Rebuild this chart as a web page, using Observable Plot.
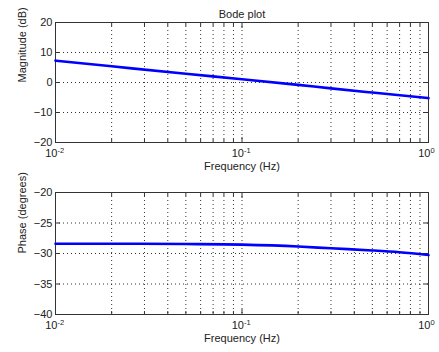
<!DOCTYPE html>
<html>
<head>
<meta charset="utf-8">
<script src="https://cdn.jsdelivr.net/npm/d3@7"></script>
<script src="https://cdn.jsdelivr.net/npm/@observablehq/plot@0.6"></script>
<style>
  html, body { margin: 0; padding: 0; background: #fff; }
  #chart svg { display: block; }
</style>
</head>
<body>
<div id="chart"></div>
<script>
// ---- data ----
const title = "Bode plot";
const xLabel = "Frequency (Hz)";
const magLabel = "Magnitude (dB)";
const phaseLabel = "Phase (degrees)";

const magFreq = [0.01, 0.02, 0.05, 0.1, 0.2, 0.3, 0.5, 1];
const magDb   = [7.3, 5.4, 2.9, 1.1, -0.8, -1.95, -3.35, -5.2];

const phaseFreq = [0.01, 0.02, 0.05, 0.1, 0.2, 0.3, 0.5, 0.7, 1];
const phaseDeg  = [-28.4, -28.4, -28.45, -28.55, -28.85, -29.15, -29.5, -29.8, -30.25];

const decadeTicks = [0.01, 0.1, 1];
const decadeExps  = ["-2", "-1", "0"];
const minorTicks = [0.02,0.03,0.04,0.05,0.06,0.07,0.08,0.09,0.2,0.3,0.4,0.5,0.6,0.7,0.8,0.9];
const magTicks = [-20, -10, 0, 10, 20];
const phaseTicks = [-40, -35, -30, -25, -20];
const magDomain = [-20, 20];
const phaseDomain = [-40, -20];
const xDomain = [0.01, 1];

const decades = decadeTicks.map((f, i) => ({f, e: decadeExps[i]}));
const magData = magFreq.map((f, i) => ({f, v: magDb[i]}));
const phaseData = phaseFreq.map((f, i) => ({f, v: phaseDeg[i]}));

const FONT = "'Liberation Sans', Arial, Helvetica, sans-serif";

function panel({data, yDomain, yTicks, yLabel, height, marginTop, marginBottom, withTitle}) {
  const gridTicks = [...decadeTicks, ...minorTicks];
  const marks = [
    Plot.gridX(gridTicks, {stroke: "#000", strokeOpacity: 0.8, strokeDasharray: "1,3"}),
    Plot.gridY(yTicks, {stroke: "#000", strokeOpacity: 0.8, strokeDasharray: "1,3"}),
    // inward ticks
    Plot.axisX(decadeTicks, {anchor: "bottom", tickSize: -5, tickFormat: () => "", label: null, stroke: "#333"}),
    Plot.axisX(decadeTicks, {anchor: "top", tickSize: -5, tickFormat: () => "", label: null, stroke: "#333"}),
    Plot.axisX(minorTicks, {anchor: "bottom", tickSize: -3, tickFormat: () => "", label: null, stroke: "#333"}),
    Plot.axisX(minorTicks, {anchor: "top", tickSize: -3, tickFormat: () => "", label: null, stroke: "#333"}),
    Plot.axisY(yTicks, {anchor: "left", tickSize: -5, tickFormat: () => "", label: null, stroke: "#333"}),
    Plot.axisY(yTicks, {anchor: "right", tickSize: -5, tickFormat: () => "", label: null, stroke: "#333"}),
    // y tick labels
    Plot.axisY(yTicks, {anchor: "left", tickSize: 0, tickPadding: 3, label: null, fontSize: 11, fill: "#222"}),
    // x tick labels: "10" with superscript exponent
    Plot.text(decades, {x: "f", text: () => "10", frameAnchor: "bottom", textAnchor: "end", dx: 2, dy: 14.5, fontSize: 11, fill: "#222"}),
    Plot.text(decades, {x: "f", text: "e", frameAnchor: "bottom", textAnchor: "start", dx: 2, dy: 10, fontSize: 7.5, fill: "#222"}),
    // axis titles
    Plot.text([xLabel], {text: d => d, frameAnchor: "bottom", dy: 27.5, fontSize: 11, fill: "#222"}),
    Plot.text([yLabel], {text: d => d, frameAnchor: "left", rotate: -90, dx: -33, fontSize: 11, fill: "#222"}),
    Plot.frame({stroke: "#333", strokeWidth: 1}),
    Plot.line(data, {x: "f", y: "v", stroke: "#0000ff", strokeWidth: 2.6, curve: "monotone-x"})
  ];
  if (withTitle) {
    marks.push(Plot.text([title], {text: d => d, frameAnchor: "top", dy: -12, fontSize: 11, fill: "#222"}));
  }
  return Plot.plot({
    width: 439,
    height,
    marginTop,
    marginBottom,
    marginLeft: 55,
    marginRight: 11,
    style: {fontFamily: FONT, fontSize: "11px", background: "#fff", overflow: "visible"},
    x: {type: "log", domain: xDomain, axis: null},
    y: {domain: yDomain, axis: null},
    marks
  });
}

const chart = document.getElementById("chart");
chart.append(panel({data: magData, yDomain: magDomain, yTicks: magTicks, yLabel: magLabel, height: 176, marginTop: 22, marginBottom: 34, withTitle: true}));
chart.append(panel({data: phaseData, yDomain: phaseDomain, yTicks: phaseTicks, yLabel: phaseLabel, height: 176, marginTop: 16, marginBottom: 38, withTitle: false}));
</script>
</body>
</html>
